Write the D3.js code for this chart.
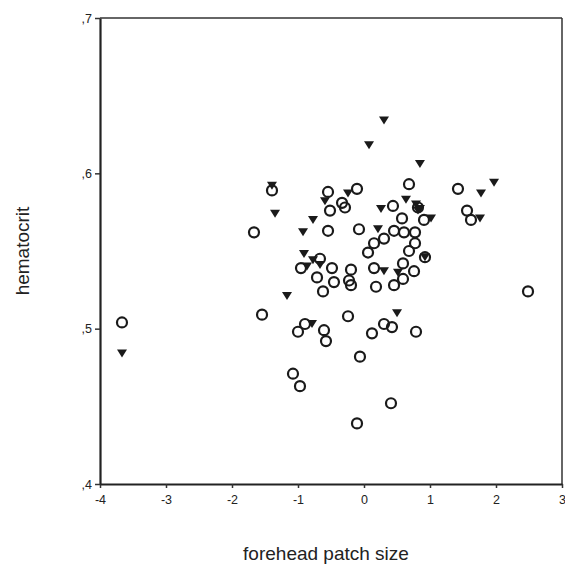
<!DOCTYPE html>
<html>
<head>
<meta charset="utf-8">
<script src="https://cdn.jsdelivr.net/npm/d3@7"></script>
<style>
  body { margin: 0; background: #fff; }
  text { font-family: "Liberation Sans", Arial, sans-serif; fill: #222; }
</style>
</head>
<body>
<div id="chart"></div>
<script>
// open circles: forehead patch size / hematocrit
var circleX = [-3.667, -1.667, -1.394, -1.545, -0.545, -0.106, -0.333, -0.288, -0.515, -0.545,
               -0.076, 0.682, 0.439, 0.576, 0.909, 0.455, 0.606, 0.773, 0.773, 0.303,
               0.152, 0.061, 0.682, 0.924, 0.591, 0.758, 0.591, 0.455, 0.182, 0.152,
               -0.667, -0.955, -0.712, -0.485, -0.197, -0.455, -0.621, -0.227, -0.197, 1.424,
               1.561, 1.621, 2.485, -1.000, -0.894, -0.606, -0.576, -0.242, 0.121, 0.303,
               0.424, 0.788, -0.061, -1.076, -0.970, 0.409, -0.106, 0.818];
var circleY = [0.504, 0.562, 0.589, 0.509, 0.588, 0.590, 0.581, 0.578, 0.576, 0.563,
               0.564, 0.593, 0.579, 0.571, 0.570, 0.563, 0.562, 0.562, 0.555, 0.558,
               0.555, 0.549, 0.550, 0.546, 0.542, 0.537, 0.532, 0.528, 0.527, 0.539,
               0.545, 0.539, 0.533, 0.539, 0.538, 0.530, 0.524, 0.531, 0.528, 0.590,
               0.576, 0.570, 0.524, 0.498, 0.503, 0.499, 0.492, 0.508, 0.497, 0.503,
               0.501, 0.498, 0.482, 0.471, 0.463, 0.452, 0.439, 0.578];
// filled triangles
var triX = [-3.667, -1.394, -1.348, -0.591, -0.773, -0.924, -0.909, -0.773, -0.667, -0.864,
            -1.167, -0.788, -0.242, 0.303, 0.076, 0.848, 0.636, 0.258, 0.212, 1.015,
            0.303, 0.515, 0.500, 1.970, 1.773, 1.758, 0.924, 0.788, 0.848, 0.818];
var triY = [0.484, 0.592, 0.574, 0.582, 0.570, 0.562, 0.548, 0.544, 0.541, 0.540,
            0.521, 0.503, 0.587, 0.634, 0.618, 0.606, 0.583, 0.577, 0.564, 0.571,
            0.537, 0.536, 0.510, 0.594, 0.587, 0.571, 0.546, 0.580, 0.577, 0.576];
var xTicks = [-4, -3, -2, -1, 0, 1, 2, 3];
var yTicks = [0.4, 0.5, 0.6, 0.7];

var margin = {top: 18, right: 3, bottom: 85, left: 100};
var width = 565 - margin.left - margin.right, height = 569 - margin.top - margin.bottom;

var svg = d3.select("#chart")
  .append("svg")
    .attr("width", 565)
    .attr("height", 569)
  .append("g")
    .attr("transform", "translate(" + margin.left + "," + margin.top + ")");

var x = d3.scaleLinear().domain([-4, 3]).range([0, 462]);
var y = d3.scaleLinear().domain([0.4, 0.7]).range([466, 0]);

// frame: top and right
svg.append("line").attr("x1", 0).attr("x2", 462).attr("y1", 0).attr("y2", 0)
   .attr("stroke", "#333").attr("stroke-width", 1.5);
svg.append("line").attr("x1", 462).attr("x2", 462).attr("y1", 0).attr("y2", 466)
   .attr("stroke", "#333").attr("stroke-width", 1.5);

var fmt = function(d) { return "," + Math.round(d * 10); };

var xAxis = svg.append("g")
  .attr("transform", "translate(0," + 466 + ")")
  .call(d3.axisBottom(x).tickValues(xTicks).tickSize(4).tickSizeOuter(0)
        .tickFormat(function(d) { return String(d); }));
var yAxis = svg.append("g")
  .call(d3.axisLeft(y).tickValues(yTicks).tickSize(5).tickSizeOuter(0).tickFormat(fmt));

[xAxis, yAxis].forEach(function(a) {
  a.select(".domain").attr("stroke", "#222").attr("stroke-width", 2.2);
  a.selectAll(".tick line").attr("stroke", "#333").attr("stroke-width", 1.5);
  a.selectAll(".tick text").attr("font-size", 12.5).attr("fill", "#222")
   .attr("font-family", "Liberation Sans, Arial, sans-serif");
});
xAxis.selectAll(".tick text").attr("dy", "1em");

svg.append("text")
   .attr("transform", "translate(" + (width / 2 - 5) + " ," + (height + margin.bottom - 9) + ")")
   .style("text-anchor", "middle")
   .attr("font-size", 19)
   .text("forehead patch size");

svg.append("text")
   .attr("transform", "rotate(-90)")
   .attr("y", 0 - margin.left + 29)
   .attr("x", 0 - 233)
   .style("text-anchor", "middle")
   .attr("font-size", 19)
   .text("hematocrit");

var circles = circleX.map(function(v, i) { return [v, circleY[i]]; });
var tris = triX.map(function(v, i) { return [v, triY[i]]; });

svg.append("g").selectAll(".tri")
  .data(tris)
  .enter()
  .append("path")
    .attr("class", "tri")
    .attr("d", "M-5,-4L5,-4L0,4Z")
    .attr("transform", function(d) { return "translate(" + x(d[0]) + "," + y(d[1]) + ")"; })
    .style("fill", "#1a1a1a");

svg.append("g").selectAll(".dot")
  .data(circles)
  .enter()
  .append("circle")
    .attr("class", "dot")
    .attr("cx", function(d) { return x(d[0]); })
    .attr("cy", function(d) { return y(d[1]); })
    .attr("r", 5)
    .style("fill", "none")
    .style("stroke", "#1a1a1a")
    .style("stroke-width", 2.2);
</script>
</body>
</html>
